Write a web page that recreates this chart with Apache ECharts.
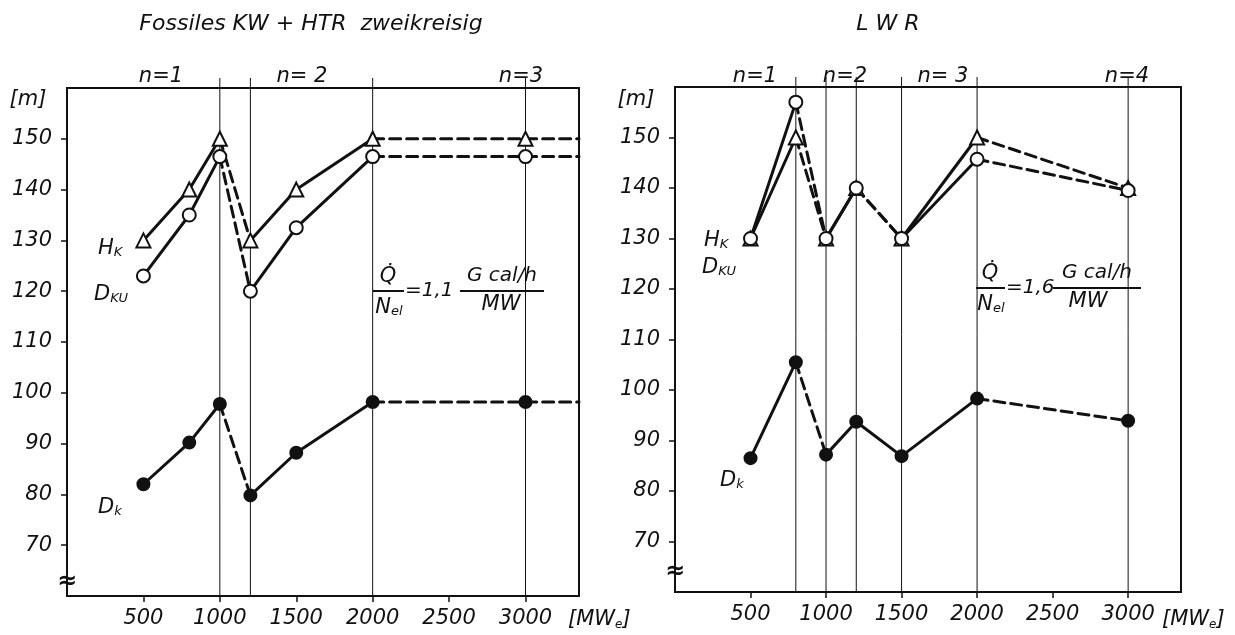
<!DOCTYPE html>
<html>
<head>
<meta charset="utf-8">
<script src="https://cdn.jsdelivr.net/npm/echarts@6/dist/echarts.min.js"></script>
<style>
	html, body { margin: 0; padding: 0; background: #fff; }
	#chart { width: 1235px; height: 635px; }
</style>
</head>
<body>
<div id="chart"></div>
<script>
	/* ---------------------------------------------
     Data
--------------------------------------------- */
	// unit sizes [MWe], same for both panels
	const powerLevels = [500, 800, 1000, 1200, 1500, 2000, 3000];

	// Fossiles KW + HTR zweikreisig
	const fossilHk = [130, 140, 150, 130, 140, 150, 150];
	const fossilDku = [123, 135, 146.5, 120, 132.5, 146.5, 146.5];
	const fossilDk = [82, 90.2, 97.8, 79.8, 88.2, 98.2, 98.2];
	// line style of each segment between neighbouring points: s = solid, d = dashed
	const fossilSegs = ['s', 's', 'd', 's', 's', 'd'];
	const fossilSteps = [1000, 1200, 2000, 3000];

	// LWR
	const lwrHk = [130, 150, 130, 140, 130, 150, 140];
	const lwrDku = [130, 157, 130, 140, 130, 145.7, 139.5];
	const lwrDk = [86.5, 105.5, 87.2, 93.7, 86.9, 98.3, 93.9];
	const lwrSegs = ['s', 'd', 's', 'd', 's', 'd'];
	const lwrDkSegs = ['s', 'd', 's', 's', 's', 'd'];
	const lwrSteps = [800, 1000, 1200, 1500, 2000, 3000];

	const yTicks = [70, 80, 90, 100, 110, 120, 130, 140, 150];
	const xTicks = [500, 1000, 1500, 2000, 2500, 3000];
	const Y_MIN = 60;
	const Y_MAX = 160;
	const X_MAX = 3350;

	/* ---------------------------------------------
     Helpers
--------------------------------------------- */
	const INK = '#111';
	const FONT = 'DejaVu Sans';

	// merge neighbouring segments of equal style into one polyline
	function curve(ys, segs, axis, extendToEdge) {
		const runs = [];
		segs.forEach((kind, i) => {
			const last = runs[runs.length - 1];
			if (last && last.kind === kind) {
				last.pts.push([powerLevels[i + 1], ys[i + 1]]);
			} else {
				runs.push({ kind, pts: [[powerLevels[i], ys[i]], [powerLevels[i + 1], ys[i + 1]]] });
			}
		});
		if (extendToEdge) {
			const n = ys.length - 1;
			const last = runs[runs.length - 1];
			if (last.kind === 'd') last.pts.push([X_MAX, ys[n]]);
			else runs.push({ kind: 'd', pts: [[powerLevels[n], ys[n]], [X_MAX, ys[n]]] });
		}
		return runs.map(r => ({
			type: 'line',
			xAxisIndex: axis,
			yAxisIndex: axis,
			data: r.pts,
			showSymbol: false,
			silent: true,
			z: 3,
			lineStyle: { color: INK, width: 3, type: r.kind === 'd' ? [11, 6] : 'solid', cap: 'round', join: 'round' },
		}));
	}

	function markers(ys, axis, symbol, filled, size) {
		return {
			type: 'scatter',
			xAxisIndex: axis,
			yAxisIndex: axis,
			data: powerLevels.map((x, i) => [x, ys[i]]),
			symbol,
			symbolSize: size,
			silent: true,
			z: 4,
			itemStyle: { color: filled ? INK : '#fff', borderColor: INK, borderWidth: 2, opacity: 1 },
		};
	}

	function steps(values, axis) {
		return {
			type: 'custom',
			xAxisIndex: axis,
			yAxisIndex: axis,
			silent: true,
			z: 2,
			data: values.map(v => [v, Y_MIN]),
			renderItem(params, api) {
				const bottom = api.coord([api.value(0), Y_MIN]);
				const top = api.coord([api.value(0), Y_MAX]);
				return {
					type: 'line',
					shape: { x1: bottom[0], y1: bottom[1], x2: top[0], y2: top[1] - 10 },
					style: { stroke: INK, lineWidth: 1 },
				};
			},
		};
	}

	const plain = v => String(v);

	function xAxis(grid) {
		return {
			type: 'value',
			gridIndex: grid,
			min: 0,
			max: X_MAX,
			splitLine: { show: false },
			axisLine: { lineStyle: { color: INK, width: 2 } },
			axisTick: { customValues: xTicks, length: 6, lineStyle: { color: INK, width: 1.5 } },
			axisLabel: { customValues: xTicks, formatter: plain, color: INK, fontFamily: FONT, fontStyle: 'italic', fontSize: 21, margin: 12 },
		};
	}

	function yAxis(grid) {
		return {
			type: 'value',
			gridIndex: grid,
			min: Y_MIN,
			max: Y_MAX,
			splitLine: { show: false },
			axisLine: { lineStyle: { color: INK, width: 2 } },
			axisTick: { customValues: yTicks, length: 6, lineStyle: { color: INK, width: 1.5 } },
			axisLabel: { customValues: yTicks, formatter: plain, color: INK, fontFamily: FONT, fontStyle: 'italic', fontSize: 21, margin: 15 },
		};
	}

	function txt(x, y, text, opts) {
		return {
			type: 'text',
			x,
			y,
			silent: true,
			style: Object.assign({
				text,
				fill: INK,
				font: `italic 21px "${FONT}"`,
				align: 'left',
				verticalAlign: 'middle',
			}, opts || {}),
		};
	}

	function rule(x1, x2, y) {
		return { type: 'line', silent: true, shape: { x1, y1: y, x2, y2: y }, style: { stroke: INK, lineWidth: 2 } };
	}

	const subRich = {
		m: { fontFamily: FONT, fontStyle: 'italic', fontSize: 21, lineHeight: 26, verticalAlign: 'bottom' },
		s: { fontFamily: FONT, fontStyle: 'italic', fontSize: 13, lineHeight: 20, verticalAlign: 'bottom' },
	};

	function sub(x, y, main, low, align) {
		return {
			type: 'text',
			x,
			y,
			silent: true,
			style: { text: `{m|${main}}{s|${low}}`, rich: subRich, fill: INK, align: align || 'left', verticalAlign: 'middle' },
		};
	}

	const unitRich = { s: { fontFamily: FONT, fontStyle: 'italic', fontSize: 12, padding: [10, 0, 0, 0] } };

	/* ---------------------------------------------
     Chart
--------------------------------------------- */
	const chart = echarts.init(document.getElementById('chart'));

	chart.setOption({
		animation: false,
		backgroundColor: '#fff',
		grid: [
			{ left: 67, top: 88, width: 512, height: 508, show: true, borderColor: INK, borderWidth: 2 },
			{ left: 675, top: 87, width: 506, height: 505, show: true, borderColor: INK, borderWidth: 2 },
		],
		xAxis: [xAxis(0), xAxis(1)],
		yAxis: [yAxis(0), yAxis(1)],
		series: [
			steps(fossilSteps, 0),
			...curve(fossilHk, fossilSegs, 0, true),
			...curve(fossilDku, fossilSegs, 0, true),
			...curve(fossilDk, fossilSegs, 0, true),
			markers(fossilHk, 0, 'triangle', false, 14),
			markers(fossilDku, 0, 'circle', false, 13),
			markers(fossilDk, 0, 'circle', true, 12),

			steps(lwrSteps, 1),
			...curve(lwrHk, lwrSegs, 1, false),
			...curve(lwrDku, lwrSegs, 1, false),
			...curve(lwrDk, lwrDkSegs, 1, false),
			markers(lwrHk, 1, 'triangle', false, 14),
			markers(lwrDku, 1, 'circle', false, 13),
			markers(lwrDk, 1, 'circle', true, 12),
		],
		graphic: [
			// titles
			txt(311, 24, 'Fossiles KW + HTR  zweikreisig', { align: 'center', font: `italic 22px "${FONT}"` }),
			txt(888, 24, 'L W R', { align: 'center', font: `italic 22px "${FONT}"` }),

			// unit labels
			txt(28, 100, '[m]', { align: 'center' }),
			txt(636, 100, '[m]', { align: 'center' }),
			{ type: 'text', x: 568, y: 620, silent: true, style: { text: '[MW{s|e}]', fill: INK, font: `italic 21px "${FONT}"`, verticalAlign: 'middle', rich: unitRich } },
			{ type: 'text', x: 1162, y: 620, silent: true, style: { text: '[MW{s|e}]', fill: INK, font: `italic 21px "${FONT}"`, verticalAlign: 'middle', rich: unitRich } },

			// axis breaks
			txt(67, 582, '≈', { align: 'center', font: `bold 24px "${FONT}"` }),
			txt(675, 572, '≈', { align: 'center', font: `bold 24px "${FONT}"` }),

			// number of units
			txt(161, 77, 'n=1', { align: 'center' }),
			txt(302, 77, 'n= 2', { align: 'center' }),
			txt(521, 77, 'n=3', { align: 'center' }),
			txt(755, 77, 'n=1', { align: 'center' }),
			txt(845, 77, 'n=2', { align: 'center' }),
			txt(943, 77, 'n= 3', { align: 'center' }),
			txt(1127, 77, 'n=4', { align: 'center' }),

			// curve names
			sub(98, 246, 'H', 'K'),
			sub(94, 292, 'D', 'KU'),
			sub(98, 505, 'D', 'k'),
			sub(704, 238, 'H', 'K'),
			sub(702, 265, 'D', 'KU'),
			sub(720, 478, 'D', 'k'),

			// heat ratio, left
			txt(388, 277, 'Q̇', { align: 'center' }),
			rule(373, 404, 291),
			sub(389, 305, 'N', 'el', 'center'),
			txt(405, 291, '=1,1', { font: `italic 20px "${FONT}"` }),
			txt(502, 276, 'G cal/h', { align: 'center', font: `italic 20px "${FONT}"` }),
			rule(460, 544, 291),
			txt(501, 305, 'MW', { align: 'center' }),

			// heat ratio, right
			txt(990, 274, 'Q̇', { align: 'center' }),
			rule(976, 1005, 288),
			sub(991, 302, 'N', 'el', 'center'),
			txt(1006, 288, '=1,6', { font: `italic 20px "${FONT}"` }),
			txt(1097, 273, 'G cal/h', { align: 'center', font: `italic 20px "${FONT}"` }),
			rule(1053, 1141, 288),
			txt(1088, 302, 'MW', { align: 'center' }),
		],
	});
</script>
</body>
</html>
